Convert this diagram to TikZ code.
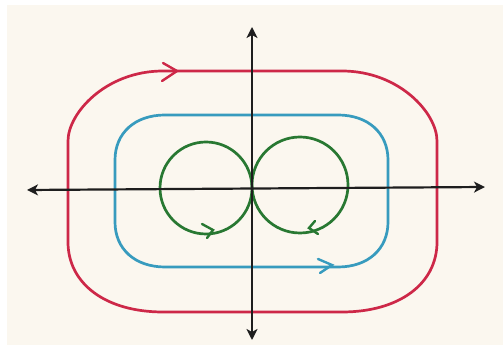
\documentclass[tikz,border=0pt]{standalone}
\usetikzlibrary{arrows.meta}
\definecolor{bgc}{RGB}{251,247,239}
\definecolor{cred}{RGB}{205,40,72}
\definecolor{cblue}{RGB}{55,155,190}
\definecolor{cgreen}{RGB}{40,120,50}
\definecolor{cax}{RGB}{30,30,30}
\tikzset{
  curve/.style={line width=2.7pt, line join=round, line cap=round},
  chev/.style={line width=2.4pt, line join=miter, line cap=round},
  axis/.style={line width=2.2pt, cax, {Stealth[length=11pt,width=11pt,inset=3pt]}-{Stealth[length=11pt,width=11pt,inset=3pt]}}
}
\begin{document}
\begin{tikzpicture}[x=1pt,y=1pt]
\useasboundingbox (0,0) rectangle (503,345);
\fill[white] (0,0) rectangle (503,345);
\fill[bgc] (7,0) rectangle (503,340);
% red outer loop
\draw[curve, cred] (163,274) -- (342,274) .. controls (399,274) and (437,232) .. (437,204)
  -- (437,103) .. controls (437,61) and (399,33) .. (342,33)
  -- (163,33) .. controls (106,33) and (68,61) .. (68,103)
  -- (68,204) .. controls (68,232) and (106,274) .. (163,274) -- cycle;
\draw[chev, cred] (163,282) -- (177,274) -- (162,264);
% blue loop
\draw[curve, cblue] (165,230) -- (338,230) .. controls (368,230) and (388,212) .. (388,185)
  -- (388,123) .. controls (388,96) and (368,78) .. (338,78)
  -- (165,78) .. controls (135,78) and (115,96) .. (115,123)
  -- (115,185) .. controls (115,212) and (135,230) .. (165,230) -- cycle;
\draw[chev, cblue] (318,86) -- (332,80) -- (320,72);
% green figure eight
\draw[curve, cgreen] (206,157) circle[radius=46];
\draw[curve, cgreen] (300,160) circle[radius=48];
\draw[chev, cgreen] (202,121) -- (213,115) -- (207,107);
\draw[chev, cgreen] (315,124) -- (309,117) -- (318,111);
% axes
\draw[axis] (27,155) -- (485,158);
\draw[axis] (252,5) -- (252,318);
\end{tikzpicture}
\end{document}
